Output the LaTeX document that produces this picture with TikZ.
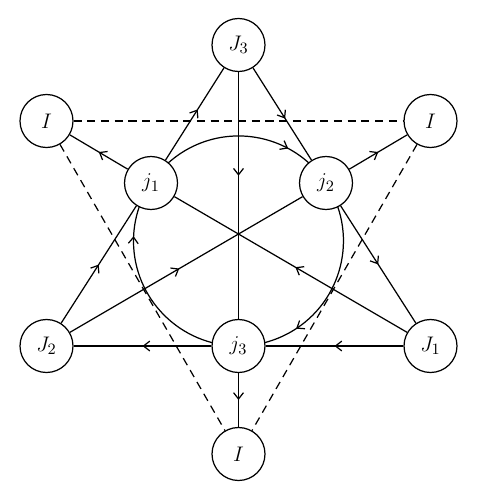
\documentclass[tikz,border=0pt]{standalone}
\usetikzlibrary{arrows.meta,decorations.markings,backgrounds}
\tikzset{
  vtx/.style={draw,circle,fill=white,minimum size=1.06cm,inner sep=0pt,
              line width=0.7pt,font=\fontsize{12.5}{14}\selectfont},
  flow/.style={line width=0.7pt,postaction={decorate},
               decoration={markings,mark=at position #1 with
               {\arrow{Straight Barb[length=3.6pt,width=5.6pt]}}}},
  flow/.default=0.5,
  cut/.style={line width=0.7pt,dash pattern=on 4.6pt off 3.2pt}
}

\begin{document}
\begin{tikzpicture}[x=0.02cm,y=-0.02cm]
        \useasboundingbox (0,0) rectangle (477,500);

        % outer vertices
        \node[vtx] (J3) at (238.5,45)  {$J_3$};
        \node[vtx] (Ia) at (46.5,121)  {$I$};
        \node[vtx] (Ib) at (430.5,121) {$I$};
        \node[vtx] (J2) at (46.5,346)  {$J_2$};
        \node[vtx] (J1) at (430.5,346) {$J_1$};
        \node[vtx] (Ic) at (238.5,454) {$I$};
        % inner vertices, all on one circle of radius 105
        \node[vtx] (j1) at (151,183)   {$j_1$};
        \node[vtx] (j2) at (326,183)   {$j_2$};
        \node[vtx] (j3) at (238.5,346) {$j_3$};

        \draw[cut] (Ia) -- (Ib);
        \draw[cut] (Ia) -- (Ic);
        \draw[cut] (Ib) -- (Ic);

        \begin{scope}[on background layer]
          \draw[flow=0.75] (j1.center) arc[start angle=213.5,end angle=326.5,radius=105];
          \draw[flow=0.73] (j2.center) arc[start angle=326.5,end angle=450,radius=105];
          \draw[flow=0.75] (j3.center) arc[start angle=90,end angle=213.5,radius=105];
        \end{scope}

        \draw[flow=0.55] (j1) -- (J3);
        \draw[flow=0.55] (J3) -- (j2);
        \draw[flow=0.42] (J3) -- (j3);
        \draw[flow] (j1) -- (Ia);
        \draw[flow] (j2) -- (Ib);
        \draw[flow] (J2) -- (j1);
        \draw[flow=0.47] (J2) -- (j2);
        \draw[flow=0.48] (J1) -- (j1);
        \draw[flow] (j2) -- (J1);
        \draw[flow] (j3) -- (J2);
        \draw[flow] (J1) -- (j3);
        \draw[flow] (j3) -- (Ic);
      \end{tikzpicture}
\end{document}
